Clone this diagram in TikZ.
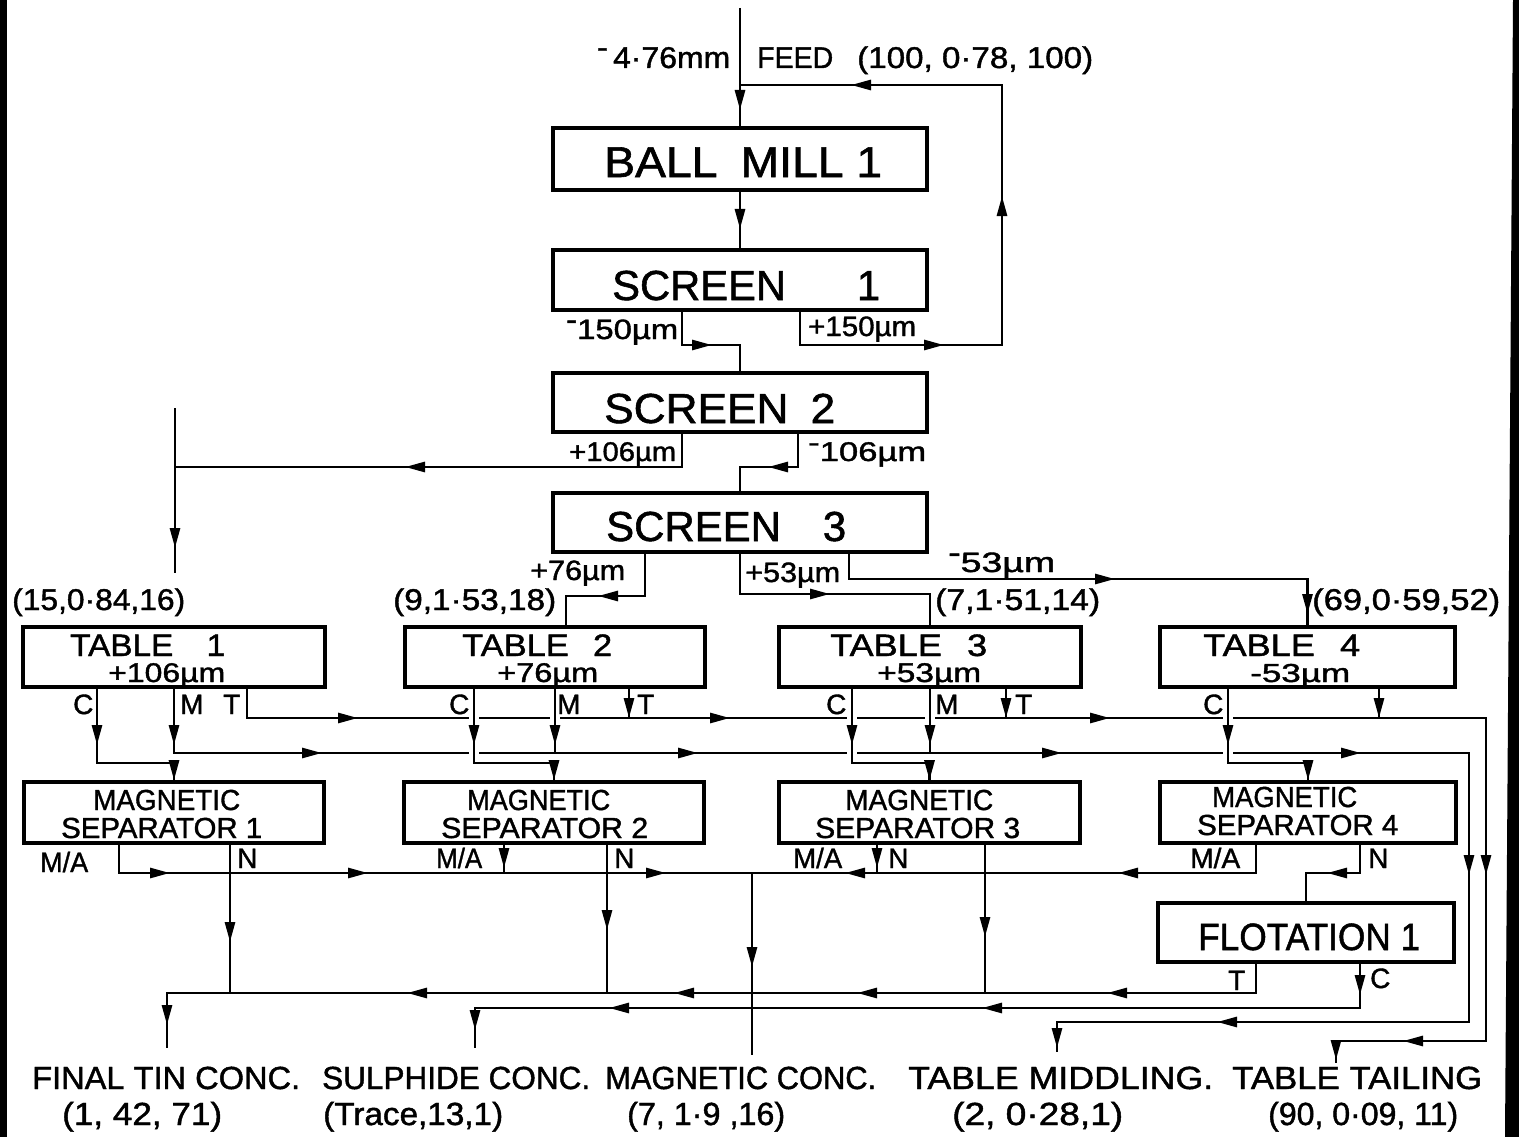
\documentclass[tikz,border=0pt]{standalone}
\usepackage{fontspec}
\setmainfont{Liberation Sans}[FakeBold=1.3]
\usepackage{graphicx}
\usetikzlibrary{arrows.meta}
\newcommand\fitw[3]{\resizebox{#1pt}{\height}{\fontsize{#2}{#2}\selectfont #3}}
\newcommand\mn{\raisebox{.35em}{-}}
\newcommand\tipD[1]{\draw[ln,tip] (#1) ++(0,-2) -- (#1);}
\newcommand\tipU[1]{\draw[ln,tip] (#1) ++(0,2) -- (#1);}
\newcommand\tipL[1]{\draw[ln,tip] (#1) ++(2,0) -- (#1);}
\newcommand\tipR[1]{\draw[ln,tip] (#1) ++(-2,0) -- (#1);}
\tikzset{
  box/.style={draw, line width=3.6pt, inner sep=0pt},
  ln/.style={line width=2.8pt},
  tip/.style={-{Triangle[length=20pt,width=10pt]}},
  gap/.style={preaction={draw=white,line width=10pt}},
  gapm/.style={preaction={draw=white,line width=10pt,shorten >=7pt}},
  lbl/.style={inner sep=0pt, anchor=base west},
  ltr/.style={lbl, font=\fontsize{28}{28}\selectfont},
}
\begin{document}
\begin{tikzpicture}[x=1pt,y=-1pt]
\useasboundingbox (0,0) rectangle (1519,1137);
\fill[white] (0,0) rectangle (1519,1137);
\fill[black] (0,0) rectangle (7,1137);
\fill[black] (1513,0) -- (1519,0) -- (1519,1137) -- (1505,1137) -- cycle;

% ---------- boxes ----------
\node[box, minimum width=374pt, minimum height=62pt] (bm) at (740,159) {};
\node[box, minimum width=374pt, minimum height=60pt] (s1) at (740,280) {};
\node[box, minimum width=374pt, minimum height=59pt] (s2) at (740,402.5) {};
\node[box, minimum width=374pt, minimum height=59pt] (s3) at (740,522.5) {};
\node[box, minimum width=302pt, minimum height=60pt] (t1) at (174,657) {};
\node[box, minimum width=300pt, minimum height=60pt] (t2) at (555,657) {};
\node[box, minimum width=302pt, minimum height=60pt] (t3) at (930,657) {};
\node[box, minimum width=295pt, minimum height=60pt] (t4) at (1307.5,657) {};
\node[box, minimum width=300pt, minimum height=61pt] (m1) at (174,812.5) {};
\node[box, minimum width=300pt, minimum height=61pt] (m2) at (554,812.5) {};
\node[box, minimum width=301pt, minimum height=61pt] (m3) at (929.5,812.5) {};
\node[box, minimum width=296pt, minimum height=61pt] (m4) at (1308,812.5) {};
\node[box, minimum width=296pt, minimum height=59pt] (fl) at (1306,932.5) {};

% free ends
\coordinate (feedin) at (740,8);
\coordinate (t1in) at (175,408);
\coordinate (t1end) at (175,573);
\coordinate (magj) at (752,873);
\coordinate (oTin) at (167,1048);
\coordinate (oSul) at (475,1048);
\coordinate (oMag) at (752,1055);
\coordinate (oMid) at (1057,1052);
\coordinate (oTail) at (1336,1063);

% ---------- connectors: top ----------
\draw[ln] (feedin) -- (bm.north);
\draw[ln] (bm.south) -- (s1.north);
\draw[ln] ([xshift=60pt]s1.south) -- (800,345) -- (1002,345) -- (1002,85) -- (740,85);
\draw[ln] ([xshift=-58pt]s1.south) -- (682,345) -- (740,345) -- (s2.north);
\draw[ln] ([xshift=-58pt]s2.south) -- (682,467) -- (175,467);
\draw[ln] (t1in) -- (t1end);
\draw[ln] ([xshift=58pt]s2.south) -- (798,467) -- (740,467) -- (s3.north);
\draw[ln] ([xshift=-95pt]s3.south) -- (645,596) -- (566,596) -- ([xshift=11pt]t2.north);
\draw[ln] (s3.south) -- (740,594) -- (930,594) -- (t3.north);
\draw[ln] ([xshift=109pt]s3.south) -- (849,579) -- (1307.5,579) -- (t4.north);

% ---------- table outputs ----------
\draw[ln] ([xshift=73pt]t1.south) -- (247,718) -- (1486,718) -- (1486,1041) -- (1336,1041) -- (oTail);
\draw[ln] (t1.south) -- (174,753) -- (1469,753) -- (1469,1022) -- (1057,1022) -- (oMid);
\draw[ln] ([xshift=-77pt]t1.south) -- (97,763) -- (174,763) -- (m1.north);
\draw[ln] ([xshift=74pt]t2.south) -- (629,718);
\draw[ln] ([xshift=76pt]t3.south) -- (1006,718);
\draw[ln] ([xshift=71.5pt]t4.south) -- (1379,718);
\draw[ln,gapm] (t2.south) -- (555,753);
\draw[ln,gapm] (t3.south) -- (930,753);
\draw[ln,gap] ([xshift=-81pt]t2.south) -- (474,763) -- (554,763) -- (m2.north);
\draw[ln,gap] ([xshift=-78pt]t3.south) -- (852,763) -- (929.5,763) -- (m3.north);
\draw[ln,gap] ([xshift=-79.5pt]t4.south) -- (1228,763) -- (1308,763) -- (m4.north);

% ---------- separator outputs ----------
\draw[ln] ([xshift=-55pt]m1.south) -- (119,873) -- (magj);
\draw[ln] ([xshift=-52pt]m4.south) -- (1256,873) -- (magj);
\draw[ln] ([xshift=-50pt]m2.south) -- (504,873);
\draw[ln] ([xshift=-52.5pt]m3.south) -- (877,873);
\draw[ln] (magj) -- (oMag);
\draw[ln] ([xshift=56pt]m1.south) -- (230,993);
\draw[ln] ([xshift=53pt]m2.south) -- (607,993);
\draw[ln] ([xshift=55.5pt]m3.south) -- (985,993);
\draw[ln] ([xshift=52pt]m4.south) -- (1360,873) -- (1306,873) -- (fl.north);
\draw[ln] ([xshift=-50pt]fl.south) -- (1256,993) -- (167,993) -- (oTin);
\draw[ln] ([xshift=54pt]fl.south) -- (1360,1008) -- (475,1008) -- (oSul);

% ---------- arrow heads ----------
\tipD{740,110} \tipD{740,229}
\tipR{944,345} \tipU{1002,196} \tipL{851,85}
\tipR{712,345} \tipL{405,467} \tipD{175,548} \tipL{768,467}
\tipL{598,596} \tipR{830,594} \tipR{1115,579} \tipD{1307.5,614}
\tipD{97,745} \tipD{m1.north} \tipD{174,745}
\tipR{358,718} \tipR{730,718} \tipR{1110,718} \tipD{1486,875} \tipL{1403,1041} \tipD{1336,1060}
\tipR{322,753} \tipR{698,753} \tipR{1062,753} \tipR{1361,753} \tipD{1469,875} \tipL{1217,1022} \tipD{1057,1048}
\tipD{474,745} \tipD{m2.north} \tipD{555,745} \tipD{629,718}
\tipD{852,745} \tipD{m3.north} \tipD{930,745} \tipD{1006,718}
\tipD{1228,745} \tipD{m4.north} \tipD{1379,718}
\tipR{170,873} \tipR{368,873} \tipR{666,873}
\tipL{1118,873} \tipL{845,873}
\tipD{504,868} \tipD{877,868}
\tipD{752,967}
\tipD{230,942} \tipD{607,930} \tipD{985,937}
\tipL{1327,873}
\tipL{1107,993} \tipL{857,993} \tipL{674,993} \tipL{407,993} \tipD{167,1025}
\tipD{1360,995} \tipL{982,1008} \tipL{609,1008} \tipD{475,1030}

% ---------- texts ----------
\node[lbl] (tmm) at (597,68) {\fitw{133}{30}{\mn\,4·76mm}};
\node[lbl] (tfeed) at (757,68) {\fitw{76}{30}{FEED}};
\node[lbl] (tfd) at (857,68) {\fitw{236}{30}{(100, 0·78, 100)}};

\node[lbl] (xbm) at (604,177) {\fitw{278}{43}{BALL\hspace{0.5em}MILL 1}};
\node[lbl] (xs1) at (612,300) {\fitw{268}{42}{SCREEN\hspace{1.7em}1}};
\node[lbl] (xs2) at (604,423) {\fitw{231}{42}{SCREEN\hspace{0.5em}2}};
\node[lbl] (xs3) at (606,541) {\fitw{240}{42}{SCREEN\hspace{1em}3}};
\node[lbl] (xfl) at (1198,950) {\fitw{222}{38}{FLOTATION 1}};

\node[lbl] (l150a) at (566,339) {\fitw{112}{28}{\mn150µm}};
\node[lbl] (l150b) at (808,336) {\fitw{108}{28}{+150µm}};
\node[lbl] (l106a) at (569,461) {\fitw{107}{27}{+106µm}};
\node[lbl] (l106b) at (808,461) {\fitw{118}{27}{\mn106µm}};
\node[lbl] (l76) at (530,580) {\fitw{95}{28}{+76µm}};
\node[lbl] (l53a) at (745,582) {\fitw{95}{28}{+53µm}};
\node[lbl] (l53b) at (948,572) {\fitw{107}{28}{\mn53µm}};

\node[lbl] (d1) at (12,610) {\fitw{173}{30}{(15,0·84,16)}};
\node[lbl] (d2) at (393,610) {\fitw{163}{30}{(9,1·53,18)}};
\node[lbl] (d3) at (935,610) {\fitw{165}{30}{(7,1·51,14)}};
\node[lbl] (d4) at (1312,610) {\fitw{188}{30}{(69,0·59,52)}};

\node[lbl] (xt1a) at (70,656) {\fitw{155}{31}{TABLE\hspace{1em}1}};
\node[lbl] (xt1b) at (108,682) {\fitw{117}{27}{+106µm}};
\node[lbl] (xt2a) at (462,656) {\fitw{150}{31}{TABLE\hspace{0.7em}2}};
\node[lbl] (xt2b) at (497,682) {\fitw{101}{27}{+76µm}};
\node[lbl] (xt3a) at (830,656) {\fitw{157}{31}{TABLE\hspace{0.7em}3}};
\node[lbl] (xt3b) at (877,682) {\fitw{104}{27}{+53µm}};
\node[lbl] (xt4a) at (1203,656) {\fitw{157}{31}{TABLE\hspace{0.7em}4}};
\node[lbl] (xt4b) at (1250,682) {\fitw{100}{26}{-53µm}};

\node[ltr] (c1) at (73,714) {C};
\node[ltr] (mm1) at (180,714) {M};
\node[ltr] (tt1) at (223,714) {T};
\node[ltr] (c2) at (449,714) {C};
\node[ltr] (mm2) at (557,714) {M};
\node[ltr] (tt2) at (637,714) {T};
\node[ltr] (c3) at (826,714) {C};
\node[ltr] (mm3) at (935,714) {M};
\node[ltr] (tt3) at (1015,714) {T};
\node[ltr] (c4) at (1203,714) {C};

\node[lbl] (xm1a) at (93,810) {\fitw{147}{29}{MAGNETIC}};
\node[lbl] (xm1b) at (61,838) {\fitw{201}{29}{SEPARATOR 1}};
\node[lbl] (xm2a) at (467,810) {\fitw{143}{29}{MAGNETIC}};
\node[lbl] (xm2b) at (441,838) {\fitw{207}{29}{SEPARATOR 2}};
\node[lbl] (xm3a) at (845,810) {\fitw{148}{29}{MAGNETIC}};
\node[lbl] (xm3b) at (815,838) {\fitw{205}{29}{SEPARATOR 3}};
\node[lbl] (xm4a) at (1212,807) {\fitw{145}{29}{MAGNETIC}};
\node[lbl] (xm4b) at (1197,835) {\fitw{201}{29}{SEPARATOR 4}};

\node[lbl] (ma1) at (40,872) {\fitw{48}{28}{M/A}};
\node[ltr] (n1) at (237,868) {N};
\node[lbl] (ma2) at (436,868) {\fitw{46}{28}{M/A}};
\node[ltr] (n2) at (614,868) {N};
\node[lbl] (ma3) at (793,868) {\fitw{49}{28}{M/A}};
\node[ltr] (n3) at (888,868) {N};
\node[lbl] (ma4) at (1190,868) {\fitw{50}{28}{M/A}};
\node[ltr] (n4) at (1368,868) {N};
\node[ltr] (ft) at (1228,990) {T};
\node[ltr] (fc) at (1370,988) {C};

\node[lbl] (b1) at (32,1089) {\fitw{268}{32}{FINAL TIN CONC.}};
\node[lbl] (b2) at (322,1089) {\fitw{268}{32}{SULPHIDE CONC.}};
\node[lbl] (b3) at (605,1089) {\fitw{271}{32}{MAGNETIC CONC.}};
\node[lbl] (b4) at (908,1089) {\fitw{305}{32}{TABLE MIDDLING.}};
\node[lbl] (b5) at (1232,1089) {\fitw{250}{32}{TABLE TAILING}};
\node[lbl] (v1) at (62,1125) {\fitw{160}{32}{(1, 42, 71)}};
\node[lbl] (v2) at (323,1125) {\fitw{180}{32}{(Trace,13,1)}};
\node[lbl] (v3) at (627,1125) {\fitw{158}{32}{(7, 1·9 ,16)}};
\node[lbl] (v4) at (952,1125) {\fitw{171}{32}{(2, 0·28,1)}};
\node[lbl] (v5) at (1268,1125) {\fitw{190}{32}{(90, 0·09, 11)}};
\end{tikzpicture}
\end{document}
